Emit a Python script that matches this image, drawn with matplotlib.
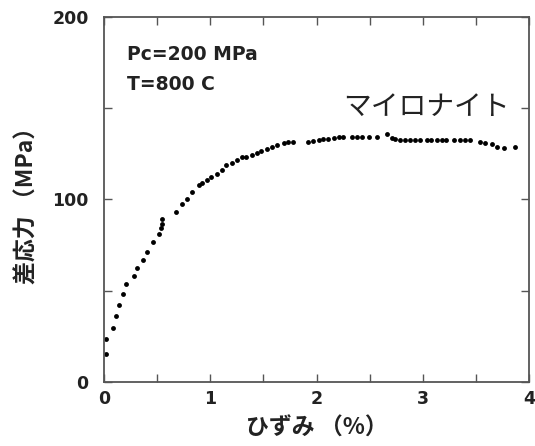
import numpy as np
import matplotlib
matplotlib.use("Agg")
import matplotlib.pyplot as plt
from matplotlib.ticker import MultipleLocator

plt.rcParams['font.family'] = ['Noto Sans CJK JP', 'DejaVu Sans']

# ひずみ (%) と差応力 (MPa) -- 図から読み取った値
strain = [0.02, 0.02, 0.08, 0.11, 0.14, 0.18, 0.21, 0.28, 0.31, 0.37, 0.40,
          0.46, 0.52, 0.54, 0.55, 0.55, 0.68, 0.73, 0.78, 0.83, 0.89, 0.92,
          0.97, 1.01, 1.06, 1.11, 1.15, 1.20, 1.25, 1.30, 1.34, 1.39, 1.44,
          1.48, 1.53, 1.58, 1.63, 1.69, 1.73, 1.78, 1.92, 1.97, 2.02, 2.06,
          2.11, 2.16, 2.21, 2.25, 2.33, 2.38, 2.43, 2.49, 2.57, 2.66, 2.71,
          2.74, 2.79, 2.83, 2.88, 2.93, 2.97, 3.04, 3.08, 3.13, 3.18, 3.22,
          3.29, 3.35, 3.40, 3.44, 3.54, 3.59, 3.65, 3.70, 3.76, 3.87]
stress = [15.3, 23.7, 29.8, 36.0, 42.2, 48.0, 53.5, 57.9, 62.3, 66.8, 71.2,
          76.9, 81.1, 84.2, 86.7, 89.3, 93.2, 97.5, 100.5, 104.1, 107.7, 109.2,
          110.7, 112.5, 114.0, 116.2, 118.9, 119.8, 121.6, 123.5, 123.5, 124.4, 125.6,
          126.7, 127.5, 128.6, 129.9, 131.2, 131.5, 131.7, 131.4, 132.0, 132.4, 132.9,
          133.3, 133.8, 134.0, 134.2, 134.4, 134.2, 134.2, 134.4, 134.4, 135.7, 133.5,
          133.0, 132.6, 132.6, 132.6, 132.6, 132.6, 132.6, 132.6, 132.6, 132.6, 132.6,
          132.6, 132.6, 132.6, 132.6, 131.7, 130.8, 130.2, 128.9, 128.0, 128.9]

fig = plt.figure(figsize=(5.35, 4.46), dpi=100)
ax = fig.add_axes([0.1944, 0.1435, 0.7944, 0.8184])

ax.plot(strain, stress, 'o', color='black', markersize=3.5, markeredgewidth=0)

ax.set_xlim(0, 4)
ax.set_ylim(0, 200)
ax.xaxis.set_major_locator(MultipleLocator(1))
ax.xaxis.set_minor_locator(MultipleLocator(0.5))
ax.yaxis.set_major_locator(MultipleLocator(100))
ax.yaxis.set_minor_locator(MultipleLocator(50))
ax.tick_params(which='both', direction='in', top=True, right=True,
               labeltop=False, labelright=False, color='#555555')
ax.tick_params(which='major', length=6, width=1)
ax.tick_params(which='minor', length=6, width=1)
ax.tick_params(axis='x', pad=6)
ax.tick_params(axis='y', pad=11)
for s in ax.spines.values():
    s.set_color('#555555')
    s.set_linewidth(1.3)

for lab in ax.get_xticklabels() + ax.get_yticklabels():
    lab.set_fontfamily('DejaVu Sans')
    lab.set_fontweight('bold')
    lab.set_fontsize(12.5)
    lab.set_color('#222222')

ax.set_xlabel('ひずみ （%）', fontsize=16.5, fontweight='bold', labelpad=6,
              color='#222222')
ax.set_ylabel('差応力 （MPa）', fontsize=16.5, fontweight='bold', labelpad=10,
              color='#222222')

ax.text(0.055, 0.896, 'Pc=200 MPa', transform=ax.transAxes, fontsize=13.5,
        fontweight='bold', family='DejaVu Sans', va='center', color='#222222')
ax.text(0.055, 0.814, 'T=800 C', transform=ax.transAxes, fontsize=13.5,
        fontweight='bold', family='DejaVu Sans', va='center', color='#222222')
ax.text(3.82, 150.7, 'マイロナイト', fontsize=20, ha='right', va='center',
        color='#222222')

fig.savefig('out.png', dpi=100)
